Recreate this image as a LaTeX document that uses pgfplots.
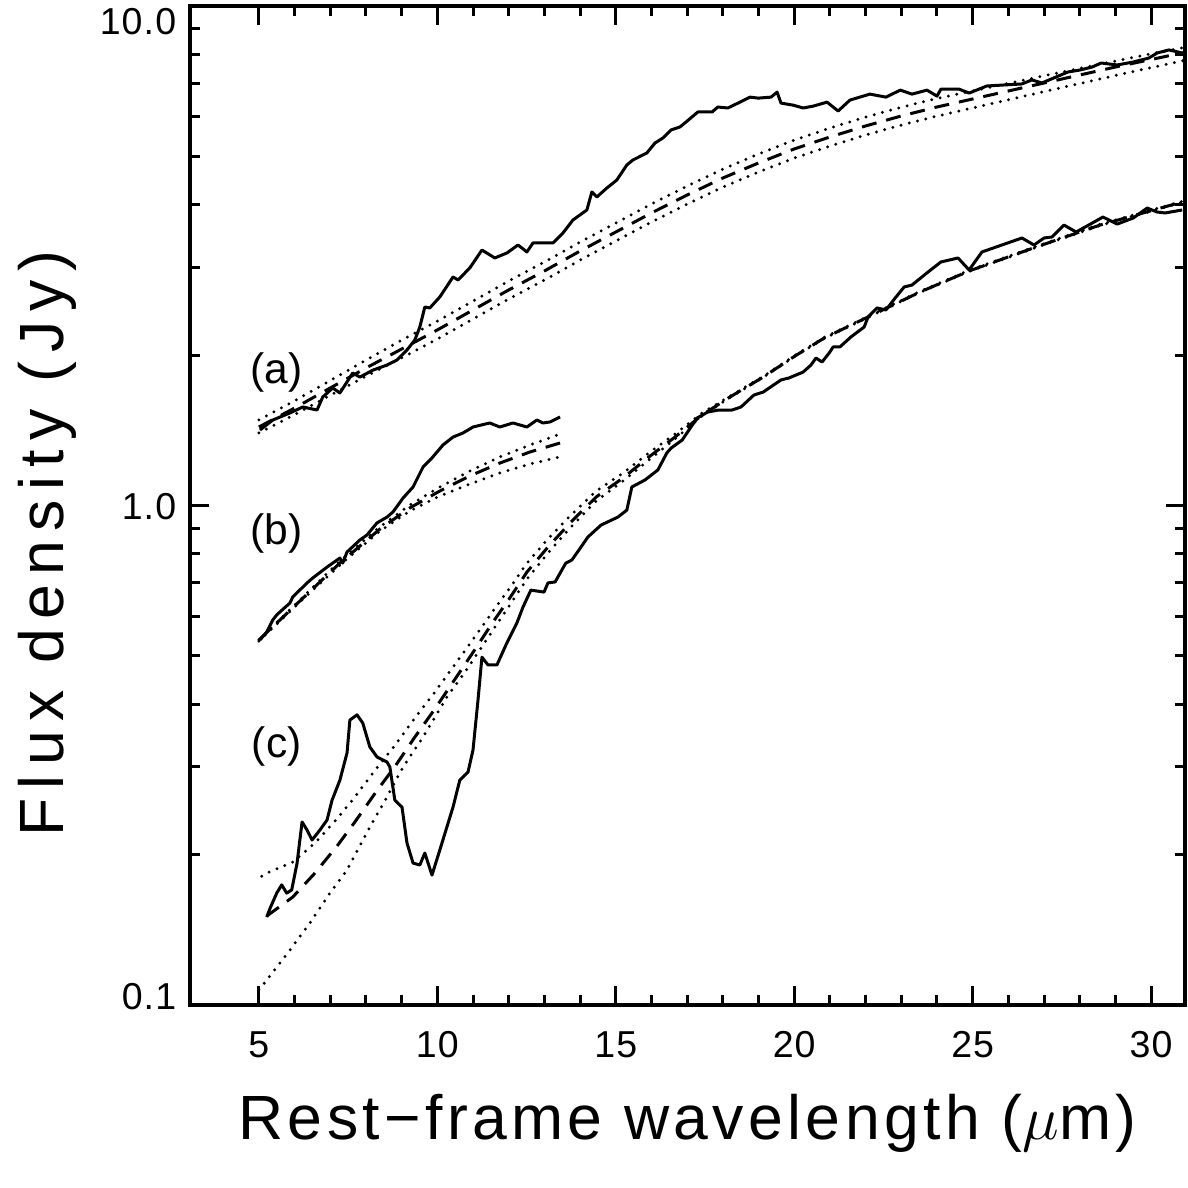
\documentclass[border=0pt]{standalone}
\usepackage{pgfplots}
\pgfplotsset{compat=1.18}
\usepackage{fontspec}
\setmainfont{Liberation Sans}
\newfontfamily\tickfont{Liberation Sans}[LetterSpace=3]
\newfontfamily\labfont{Liberation Sans}[LetterSpace=7]
\newfontfamily\ylabfont{Liberation Sans}[LetterSpace=15]
\begin{document}
\begin{tikzpicture}
\useasboundingbox (-76pt,-73.2pt) rectangle (399.2pt,402pt);
\begin{axis}[at={(0,0)}, anchor=south west, scale only axis,
  width=398pt, height=399.6pt,
  xmin=3.07, xmax=30.95, ymode=log, ymin=0.1, ymax=10,
  xtick={5,10,15,20,25,30}, xticklabels={5,10,15,20,25,30}, minor x tick num=4,
  ytick={0.1,1,10},
  yticklabels={{\raisebox{4pt}[0.75em][0pt]{0.1}},{\raisebox{0pt}[0.75em][0pt]{1.0}},{\raisebox{-5.6pt}[0.75em][0pt]{10.0}}},
  tick align=inside, major tick length=7.6pt, minor tick length=4pt,
  every tick/.style={black, line width=1.2pt},
  axis line style={line width=1.4pt},
  xticklabel style={font=\fontsize{15}{17}\selectfont\tickfont, yshift=-7pt},
  yticklabel style={font=\fontsize{15}{17}\selectfont\tickfont, xshift=-2pt},
  xlabel={Rest−frame wavelength ($\mu$m)},
  ylabel={Flux density (Jy)},
  xlabel style={font=\fontsize{25}{29}\selectfont\labfont, at={(axis description cs:0.5,-0.1351)}, anchor=base},
  ylabel style={font=\fontsize{25}{29}\selectfont\ylabfont, at={(axis description cs:-0.1276,0.462)}, anchor=base, rotate=0},
  solidc/.style={black, line width=1.2pt, line join=round},
  dashc/.style={black, line width=1.2pt, dash pattern=on 6pt off 4pt},
  dotc/.style={black, line width=1.3pt, line cap=round, dash pattern=on 0pt off 3.4pt},
]
% ---------- (a) ----------
\addplot[solidc] coordinates {(5.03,1.416)(5.39,1.483)(5.87,1.532)(6.23,1.575)(6.63,1.553)(6.79,1.649)(7.07,1.719)(7.27,1.680)(7.63,1.842)(7.83,1.808)(8.20,1.867)(8.59,1.911)(8.87,1.956)(9.15,2.048)(9.37,2.145)(9.51,2.277)(9.65,2.497)(9.79,2.486)(10.07,2.615)(10.44,2.868)(10.58,2.828)(10.91,2.989)(11.25,3.247)(11.61,3.130)(11.95,3.203)(12.26,3.323)(12.51,3.218)(12.68,3.354)(13.24,3.354)(13.52,3.512)(13.80,3.729)(14.19,3.905)(14.33,4.243)(14.47,4.146)(14.75,4.321)(15.03,4.484)(15.31,4.805)(15.48,4.917)(15.87,5.078)(16.10,5.318)(16.32,5.442)(16.55,5.647)(16.80,5.726)(16.97,5.859)(17.30,6.135)(17.70,6.135)(17.86,6.278)(18.14,6.249)(18.48,6.420)(18.76,6.570)(18.99,6.540)(19.35,6.570)(19.52,6.723)(19.63,6.391)(19.97,6.332)(20.25,6.249)(20.53,6.303)(20.92,6.420)(21.23,6.163)(21.56,6.480)(22.12,6.662)(22.57,6.570)(22.97,6.785)(23.30,6.662)(23.72,6.785)(24.00,6.601)(24.11,6.817)(24.62,6.817)(24.90,6.694)(25.40,6.917)(26.38,6.981)(26.66,7.112)(26.94,7.013)(27.67,7.378)(28.01,7.446)(28.35,7.550)(28.60,7.690)(29.05,7.620)(29.50,7.726)(29.94,7.870)(30.17,8.053)(30.50,8.166)(30.87,8.053)};
\addplot[dashc] coordinates {(5,1.436)(6,1.567)(7,1.719)(8,1.885)(9,2.057)(10,2.246)(11,2.463)(12,2.701)(13,2.948)(14,3.232)(15,3.528)(16,3.852)(17,4.184)(18,4.525)(19,4.850)(20,5.173)(21,5.467)(22,5.752)(23,6.023)(24,6.278)(25,6.514)(26,6.758)(27,7.012)(28,7.276)(29,7.549)(30,7.815)(31,8.090)};
\addplot[dotc] coordinates {(5,1.484)(6,1.620)(7,1.779)(8,1.955)(9,2.143)(10,2.340)(11,2.566)(12,2.814)(13,3.072)(14,3.368)(15,3.676)(16,4.014)(17,4.360)(18,4.715)(19,5.054)(20,5.390)(21,5.697)(22,5.994)(23,6.270)(24,6.530)(25,6.760)(26,7.000)(27,7.250)(28,7.500)(29,7.760)(30,8.020)(31,8.280)};
\addplot[dotc] coordinates {(5,1.397)(6,1.520)(7,1.662)(8,1.815)(9,1.975)(10,2.154)(11,2.362)(12,2.590)(13,2.827)(14,3.099)(15,3.383)(16,3.694)(17,4.012)(18,4.339)(19,4.651)(20,4.961)(21,5.243)(22,5.516)(23,5.776)(24,6.020)(25,6.250)(26,6.490)(27,6.740)(28,6.995)(29,7.260)(30,7.525)(31,7.800)};
% ---------- (b) ----------
\addplot[solidc] coordinates {(5.03,0.538)(5.22,0.558)(5.39,0.590)(5.50,0.604)(5.87,0.638)(5.95,0.656)(6.35,0.700)(6.51,0.716)(6.91,0.753)(7.27,0.785)(7.35,0.767)(7.47,0.807)(7.83,0.853)(8.03,0.873)(8.31,0.923)(8.59,0.948)(8.76,0.971)(9.04,1.035)(9.32,1.089)(9.60,1.194)(9.85,1.245)(10.16,1.322)(10.44,1.371)(10.72,1.397)(11.00,1.436)(11.47,1.463)(11.75,1.436)(12.12,1.463)(12.51,1.436)(12.79,1.483)(12.96,1.463)(13.16,1.470)(13.44,1.504)};
\addplot[dashc] coordinates {(5.00,0.538)(6.15,0.644)(7.27,0.767)(8.39,0.897)(9.23,0.989)(10.07,1.069)(10.91,1.146)(11.75,1.216)(12.60,1.280)(13.44,1.334)};
\addplot[dotc] coordinates {(5.00,0.538)(6.15,0.647)(7.27,0.774)(8.39,0.906)(9.23,1.002)(10.07,1.089)(10.91,1.172)(11.75,1.251)(12.60,1.322)(13.44,1.390)};
\addplot[dotc] coordinates {(5.00,0.535)(6.15,0.641)(7.27,0.760)(8.39,0.889)(9.23,0.975)(10.07,1.045)(10.91,1.104)(11.75,1.162)(12.60,1.211)(13.44,1.251)};
% ---------- (c) ----------
\addplot[solidc] coordinates {(5.22,0.150)(5.31,0.156)(5.50,0.1675)(5.64,0.174)(5.78,0.1675)(5.92,0.170)(6.07,0.1924)(6.21,0.2325)(6.35,0.224)(6.49,0.214)(6.71,0.224)(6.91,0.2346)(7.05,0.257)(7.27,0.282)(7.47,0.3196)(7.55,0.372)(7.75,0.381)(7.91,0.367)(8.11,0.3285)(8.31,0.3137)(8.59,0.3066)(8.67,0.2996)(8.81,0.257)(9.01,0.249)(9.15,0.211)(9.32,0.1924)(9.51,0.1907)(9.65,0.2015)(9.85,0.182)(10.07,0.2043)(10.44,0.249)(10.63,0.282)(10.86,0.2927)(11.00,0.324)(11.14,0.408)(11.25,0.497)(11.42,0.4795)(11.67,0.4795)(11.95,0.531)(12.23,0.582)(12.40,0.626)(12.62,0.677)(12.99,0.671)(13.10,0.700)(13.30,0.703)(13.60,0.767)(13.77,0.778)(13.97,0.815)(14.22,0.865)(14.59,0.914)(15.06,0.948)(15.31,0.979)(15.45,1.089)(15.82,1.125)(16.18,1.178)(16.43,1.274)(16.55,1.303)(16.86,1.352)(17.05,1.416)(17.28,1.497)(17.58,1.539)(17.89,1.553)(18.26,1.553)(18.51,1.575)(18.87,1.664)(19.13,1.687)(19.63,1.784)(19.85,1.800)(20.25,1.850)(20.47,1.911)(20.61,1.974)(20.78,1.938)(20.98,2.020)(21.09,2.077)(21.28,2.077)(21.59,2.175)(21.96,2.277)(22.07,2.385)(22.32,2.486)(22.57,2.463)(22.83,2.603)(23.08,2.738)(23.30,2.763)(23.75,2.934)(24.11,3.073)(24.59,3.130)(24.90,2.962)(25.26,3.218)(26.38,3.432)(26.72,3.323)(27.00,3.432)(27.22,3.448)(27.56,3.643)(27.90,3.528)(28.35,3.677)(28.65,3.780)(29.05,3.660)(29.50,3.763)(29.89,3.941)(30.17,3.869)(30.39,3.852)(30.87,3.905)};
\addplot[dashc] coordinates {(5.22,0.1507)(5.95,0.1645)(6.57,0.1837)(7.21,0.2090)(7.69,0.2325)(8.28,0.2669)(8.84,0.3022)(9.37,0.3439)(9.93,0.3914)(10.44,0.4431)(10.97,0.5043)(11.56,0.5844)(12.03,0.6529)(12.51,0.7358)(13.10,0.8258)(13.72,0.9226)(14.45,1.040)(15.20,1.135)(15.93,1.251)(16.66,1.371)(17.42,1.518)(18.20,1.649)(19.13,1.808)(20.02,1.992)(20.84,2.164)(22.07,2.385)(23.53,2.676)(24.90,2.948)(26.78,3.293)(28.57,3.643)(30.87,4.052)};
\addplot[dotc] coordinates {(5.08,0.1810)(5.22,0.1837)(5.95,0.1933)(6.57,0.2109)(7.21,0.2368)(7.69,0.2609)(8.28,0.2968)(8.84,0.3330)(9.37,0.3755)(9.93,0.4231)(10.44,0.4750)(10.97,0.5356)(11.56,0.6148)(12.03,0.6836)(12.51,0.7667)(13.10,0.8572)(13.72,0.9531)(14.45,1.069)(15.20,1.161)(15.93,1.275)(16.66,1.390)(17.42,1.532)(18.20,1.656)(19.13,1.813)(20.02,1.998)(20.84,2.170)(22.07,2.392)(23.53,2.684)(24.90,2.957)(26.78,3.303)(28.57,3.654)(30.87,4.064)};
\addplot[dotc] coordinates {(5.00,0.1072)(5.22,0.1122)(5.87,0.1288)(6.43,0.1460)(6.99,0.1675)(7.47,0.1863)(8.11,0.2272)(8.59,0.2609)(9.04,0.2996)(9.60,0.3439)(10.27,0.4137)(10.83,0.4700)(11.56,0.5632)(12.03,0.6321)(12.51,0.7124)(13.10,0.8034)(13.72,0.9015)(14.45,1.021)(15.20,1.119)(15.93,1.233)(16.66,1.359)(17.42,1.511)(18.20,1.645)(19.13,1.805)(20.02,1.988)(20.84,2.160)(22.07,2.381)(23.53,2.671)(24.90,2.942)(26.78,3.286)(28.57,3.636)(30.87,4.044)};
% ---------- labels ----------
\node[font=\fontsize{17}{19}\selectfont] at (axis cs:5.5,1.850) {(a)};
\node[font=\fontsize{17}{19}\selectfont] at (axis cs:5.5,0.877) {(b)};
\node[font=\fontsize{17}{19}\selectfont] at (axis cs:5.5,0.330) {(c)};
\end{axis}
\end{tikzpicture}
\end{document}
